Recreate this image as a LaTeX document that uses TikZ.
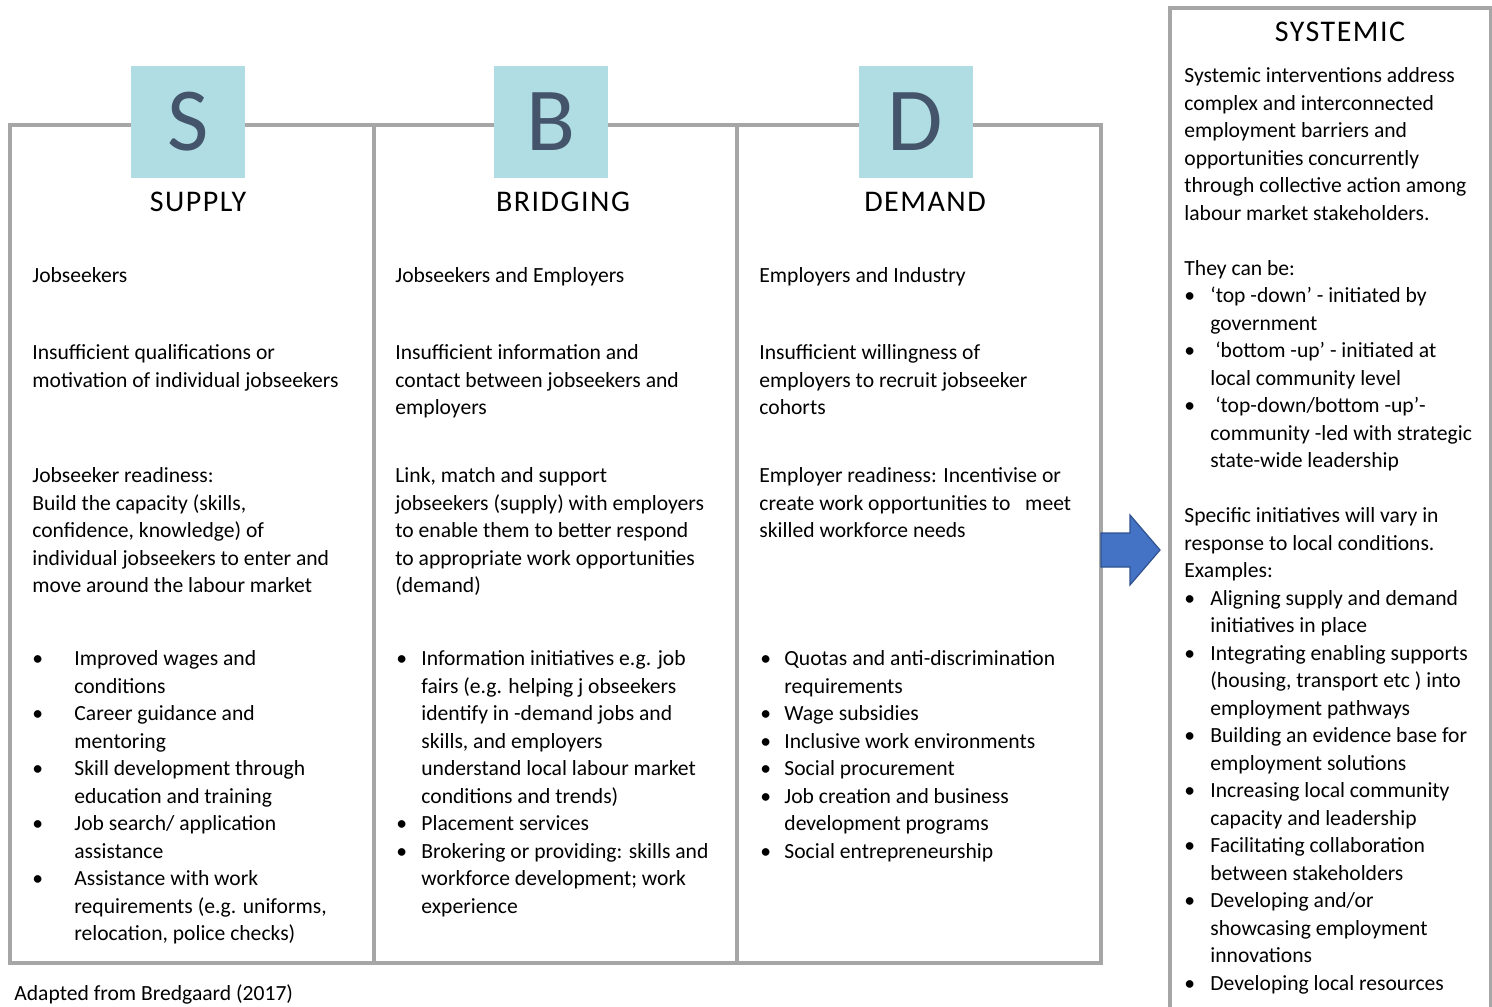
\documentclass[tikz,border=0pt]{standalone}
\usepackage{fontspec}
\setmainfont{Carlito}
\newfontfamily\headfont[LetterSpace=5]{Carlito}
\definecolor{boxblue}{RGB}{176,221,227}
\definecolor{slate}{RGB}{68,84,106}
\definecolor{framegray}{RGB}{166,166,166}
\definecolor{arrowblue}{RGB}{68,114,196}
\definecolor{arrowedge}{RGB}{47,82,143}
\newcommand{\fullrow}[1]{\multicolumn{2}{@{}l@{}}{#1}}
\tikzset{
  txt/.style={anchor=north west, inner sep=0pt, align=left, font=\fontsize{10.8}{13.75}\selectfont},
  head/.style={anchor=base, inner sep=0pt, font=\headfont\fontsize{15}{17}\selectfont},
  letterbox/.style={fill=boxblue, minimum width=57pt, minimum height=56pt, inner sep=0pt,
    text=slate, font=\fontsize{45}{45}\selectfont},
  frame/.style={draw=framegray, line width=1.6pt}
}
\begin{document}
\begin{tikzpicture}[x=0.5pt,y=-0.5pt]
\useasboundingbox (0,0) rectangle (1492,1006);
% three columns
\draw[frame] (10,125) rectangle (1101,963);
\draw[frame] (374,125) -- (374,963);
\draw[frame] (737,125) -- (737,963);
\node[letterbox] (S) at (188,122) {S};
\node[letterbox] (B) at (550.5,122) {B};
\node[letterbox] (D) at (915.5,122) {D};
\node[head] (supply) at (198,211) {SUPPLY};
\node[head] (bridging) at (563,211) {BRIDGING};
\node[head] (demand) at (925,211) {DEMAND};

% supply
\node[txt] (supwho) at (32,263) {\strut Jobseekers};
\node[txt] (supgap) at (32,340) {\strut Insufficient qualifications or\\motivation of individual jobseekers};
\node[txt] (supaim) at (32,463) {\strut Jobseeker readiness:\\Build the capacity (skills,\\confidence, knowledge) of\\individual jobseekers to enter and\\move around the labour market};
\node[txt] (supact) at (32,646) {\begin{tabular}{@{}p{21pt}@{}l@{}}
\textbullet & Improved wages and\\
 & conditions\\
\textbullet & Career guidance and\\
 & mentoring\\
\textbullet & Skill development through\\
 & education and training\\
\textbullet & Job search/ application\\
 & assistance\\
\textbullet & Assistance with work\\
 & requirements (e.g. uniforms,\\
 & relocation, police checks)
\end{tabular}};

% bridging
\node[txt] (briwho) at (395,263) {\strut Jobseekers and Employers};
\node[txt] (brigap) at (395,340) {\strut Insufficient information and\\contact between jobseekers and\\employers};
\node[txt] (briaim) at (395,463) {\strut Link, match and support\\jobseekers (supply) with employers\\to enable them to better respond\\to appropriate work opportunities\\(demand)};
\node[txt] (briact) at (396,646) {\begin{tabular}{@{}p{12.5pt}@{}l@{}}
\textbullet & Information initiatives e.g. job\\
 & fairs (e.g. helping j obseekers\\
 & identify in -demand jobs and\\
 & skills, and employers\\
 & understand local labour market\\
 & conditions and trends)\\
\textbullet & Placement services\\
\textbullet & Brokering or providing: skills and\\
 & workforce development; work\\
 & experience
\end{tabular}};

% demand
\node[txt] (demwho) at (759,263) {\strut Employers and Industry};
\node[txt] (demgap) at (759,340) {\strut Insufficient willingness of\\employers to recruit jobseeker\\cohorts};
\node[txt] (demaim) at (759,463) {\strut Employer readiness: Incentivise or\\create work opportunities to\ \ \ meet\\skilled workforce needs};
\node[txt] (demact) at (760,646) {\begin{tabular}{@{}p{12pt}@{}l@{}}
\textbullet & Quotas and anti-discrimination\\
 & requirements\\
\textbullet & Wage subsidies\\
\textbullet & Inclusive work environments\\
\textbullet & Social procurement\\
\textbullet & Job creation and business\\
 & development programs\\
\textbullet & Social entrepreneurship
\end{tabular}};

% systemic
\draw[frame] (1170,8) rectangle (1491,1014);
\node[head] (systemic) at (1340,42) {SYSTEMIC};
\node[txt] (sysbody) at (1184,63) {\begin{tabular}{@{}p{13pt}@{}l@{}}
\fullrow{Systemic interventions address}\\
\fullrow{complex and interconnected}\\
\fullrow{employment barriers and}\\
\fullrow{opportunities concurrently}\\
\fullrow{through collective action among}\\
\fullrow{labour market stakeholders.}\\
 & \\
\fullrow{They can be:}\\
\textbullet & ‘top -down’ - initiated by\\
 & government\\
\textbullet & \ ‘bottom -up’ - initiated at\\
 & local community level\\
\textbullet & \ ‘top-down/bottom -up’-\\
 & community -led with strategic\\
 & state-wide leadership\\
 & \\
\fullrow{Specific initiatives will vary in}\\
\fullrow{response to local conditions.}\\
\fullrow{Examples:}\\
\textbullet & Aligning supply and demand\\
 & initiatives in place\\
\textbullet & Integrating enabling supports\\
 & (housing, transport etc ) into\\
 & employment pathways\\
\textbullet & Building an evidence base for\\
 & employment solutions\\
\textbullet & Increasing local community\\
 & capacity and leadership\\
\textbullet & Facilitating collaboration\\
 & between stakeholders\\
\textbullet & Developing and/or\\
 & showcasing employment\\
 & innovations\\
\textbullet & Developing local resources
\end{tabular}};

% block arrow into the systemic box
\draw[fill=arrowblue, draw=arrowedge, line width=0.6pt] (1101,533) -- (1130,533) -- (1130,515)
  -- (1160,550) -- (1130,585) -- (1130,567) -- (1101,567) -- cycle;

\node[anchor=base west, inner sep=0pt, font=\fontsize{10.8}{13.75}\selectfont] (source) at (14,1000) {Adapted from Bredgaard (2017)};
\end{tikzpicture}
\end{document}
